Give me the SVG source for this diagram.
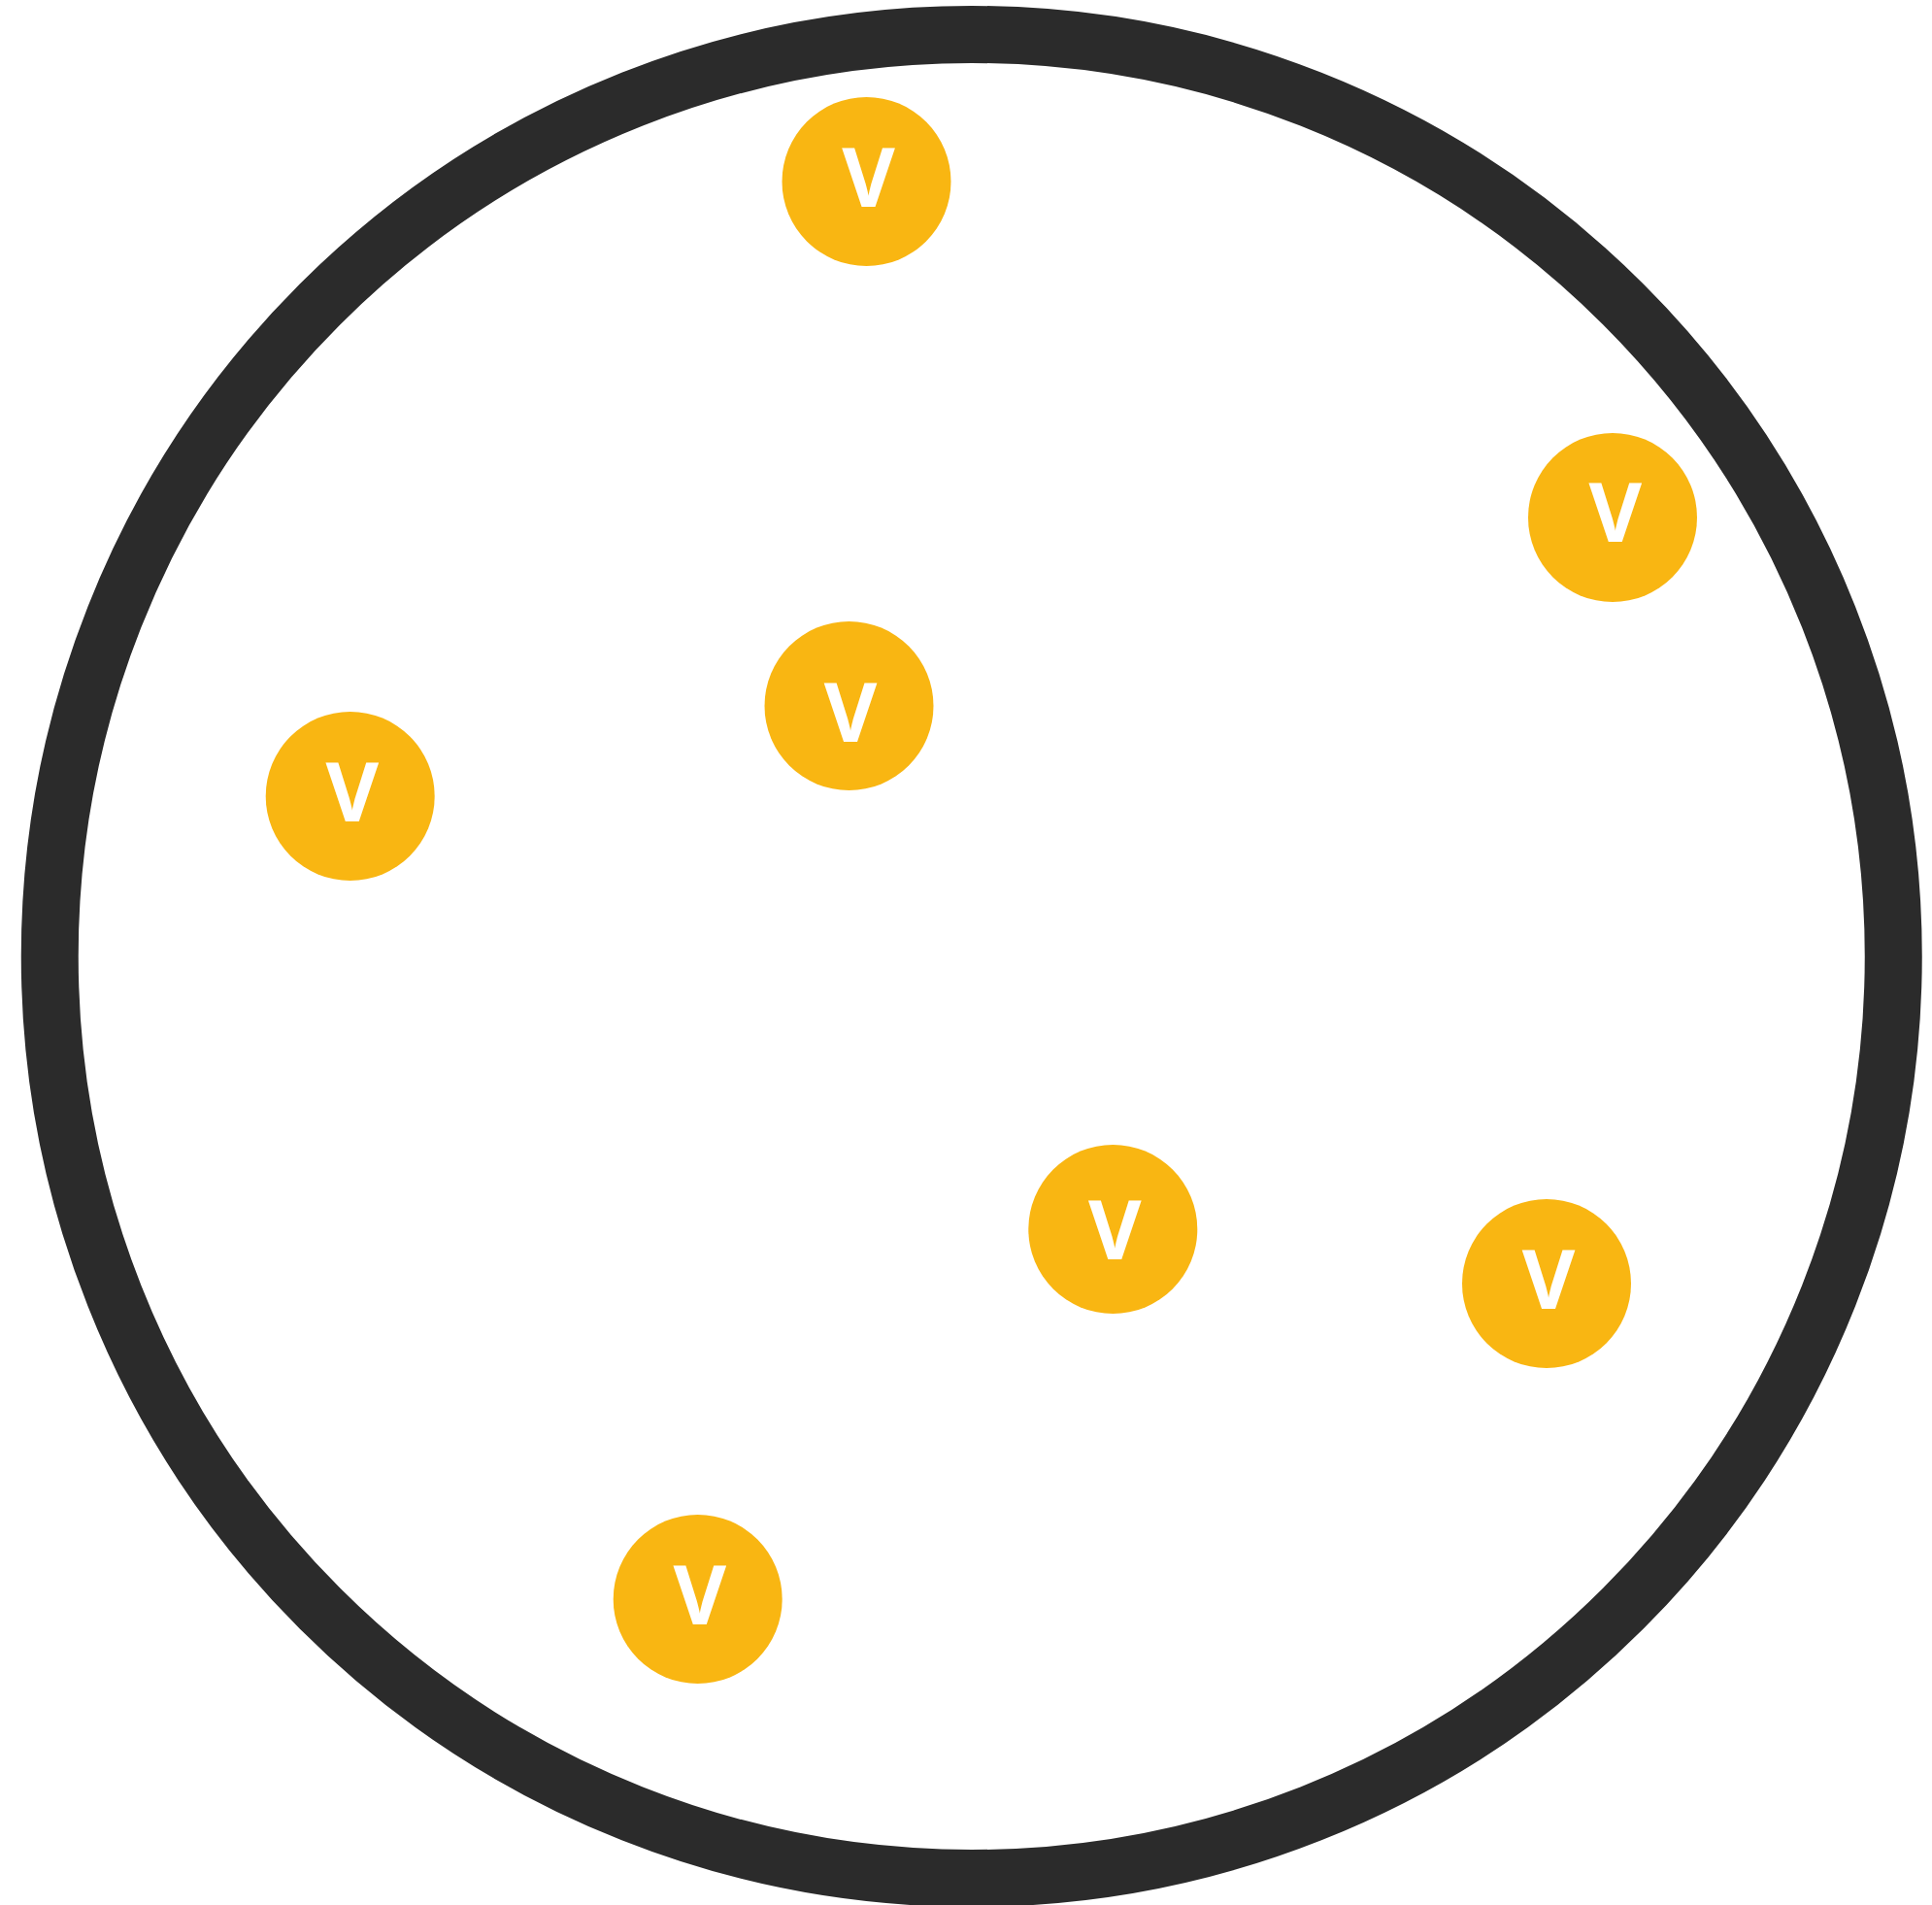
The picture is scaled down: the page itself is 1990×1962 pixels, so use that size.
<svg xmlns="http://www.w3.org/2000/svg" width="1990" height="1962" viewBox="0 0 1990 1962">
<style>
.ring{fill:none;stroke:#2b2b2b;stroke-width:59}
.node circle{fill:#f9b612}
.node text{fill:#ffffff;font-family:"Open Sans","Liberation Sans",sans-serif;font-weight:bold;font-size:84px;text-anchor:middle}
</style>
<rect width="1990" height="1962" fill="#ffffff"/>
<g id="boundary"><circle class="ring" cx="1000.75" cy="985" r="949.5"/></g>
<g id="connectors"></g>
<g id="n1" class="node"><circle cx="892.5" cy="187" r="87"/><text x="894.6" y="213.3">V</text></g>
<g id="n2" class="node"><circle cx="1661" cy="533" r="87"/><text x="1663.7" y="558.3">V</text></g>
<g id="n3" class="node"><circle cx="874.5" cy="727" r="87"/><text x="876" y="764">V</text></g>
<g id="n4" class="node"><circle cx="360.7" cy="820" r="87"/><text x="362.7" y="846">V</text></g>
<g id="n5" class="node"><circle cx="1146.3" cy="1266" r="87"/><text x="1148.3" y="1296.7">V</text></g>
<g id="n6" class="node"><circle cx="1593" cy="1322" r="87"/><text x="1595" y="1348">V</text></g>
<g id="n7" class="node"><circle cx="718.7" cy="1647" r="87"/><text x="720.7" y="1673">V</text></g>
</svg>
